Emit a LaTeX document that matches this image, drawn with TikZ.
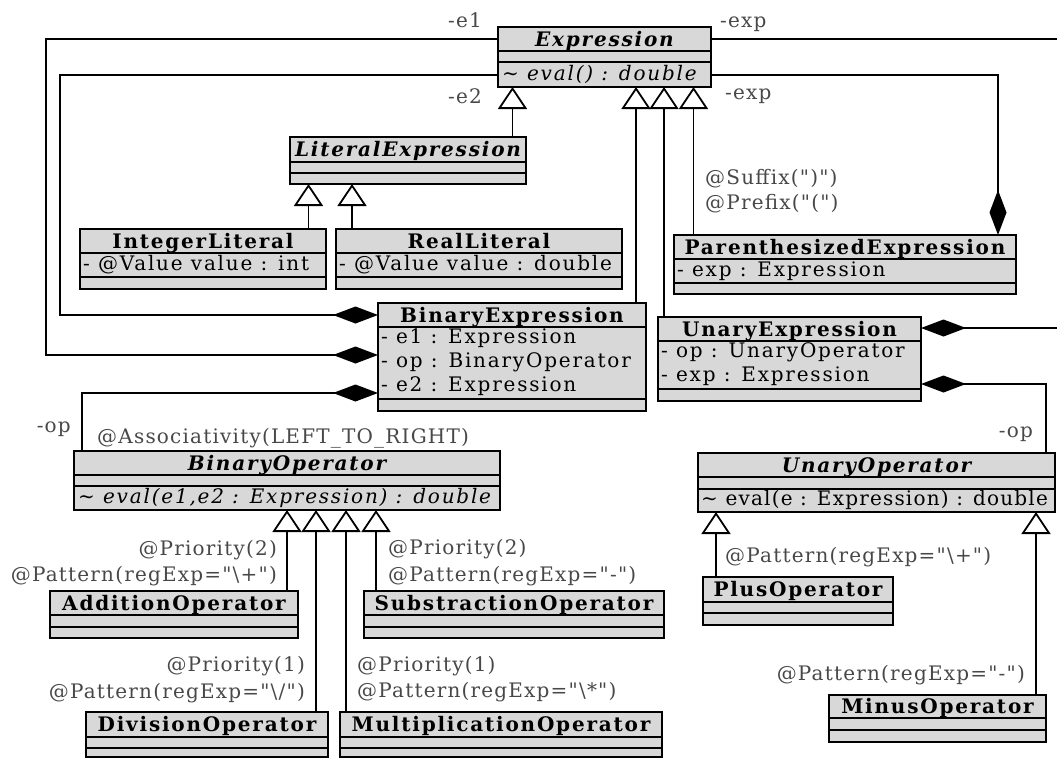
\documentclass[tikz,border=0pt]{standalone}
\usepackage{fontspec}
\newfontfamily\umlfont{DejaVu Serif}[LetterSpace=9]
\newfontfamily\notefont{DejaVu Serif}[LetterSpace=6]
\usetikzlibrary{arrows.meta}
\definecolor{boxfill}{RGB}{216,216,216}
\definecolor{labelgray}{RGB}{72,72,72}
\newcommand\umlsize{\fontsize{20}{24}\selectfont}
\tikzset{
  every node/.style={font=\umlfont\umlsize},
  classbox/.style={draw, fill=boxfill, line width=1.8pt, inner sep=0pt, outer sep=0pt, anchor=north west},
  divider/.style={line width=1.8pt},
  ctitle/.style={anchor=base, inner sep=0pt, font=\umlfont\umlsize\bfseries},
  atitle/.style={anchor=base, inner sep=0pt, font=\umlfont\umlsize\bfseries\itshape},
  attr/.style={anchor=base west, inner sep=0pt},
  meth/.style={anchor=base west, inner sep=0pt, font=\umlfont\umlsize\itshape},
  annot/.style={text=labelgray, inner sep=0pt, font=\notefont\umlsize},
  gen/.style={line width=1.8pt, -{Triangle[open,length=22pt,width=29pt,fill=white]}},
  comp/.style={line width=1.8pt, -{Diamond[length=45pt,width=17pt]}},
}
\newcommand\umlbox[5]{\node[classbox, minimum width={(#4)-(#2)}, minimum height={(#5)-(#3)}] (#1) at (#2,#3) {};}
\newcommand\umlrule[3]{\draw[divider] (#1,#3) -- (#2,#3);}
\begin{document}
\begin{tikzpicture}[x=1pt,y=-1pt]
\useasboundingbox (0,0) rectangle (1057,758);
\clip (0,0) rectangle (1057,758);

% ---------- classes ----------
% Expression
\umlbox{expr}{498}{27}{711}{87}
\umlrule{498}{711}{51}\umlrule{498}{711}{62}
\node[atitle] (exprT) at (604.5,46) {Expression};
\node[meth] (exprM) at (502,80) {\textasciitilde{} eval() : double};

% LiteralExpression
\umlbox{lit}{290}{137}{526}{184}
\umlrule{290}{526}{162}\umlrule{290}{526}{173}
\node[atitle] (litT) at (408,156) {LiteralExpression};

% IntegerLiteral
\umlbox{intlit}{80}{229}{326}{289}
\umlrule{80}{326}{253}\umlrule{80}{326}{277}
\node[ctitle] (intlitT) at (203,248) {IntegerLiteral};
\node[attr] (intlitA) at (83,270) {- @Value value : int};

% RealLiteral
\umlbox{reallit}{336}{229}{622}{289}
\umlrule{336}{622}{253}\umlrule{336}{622}{277}
\node[ctitle] (reallitT) at (479,248) {RealLiteral};
\node[attr] (reallitA) at (339,270) {- @Value value : double};

% ParenthesizedExpression
\umlbox{paren}{674}{235}{1016}{294}
\umlrule{674}{1016}{259}\umlrule{674}{1016}{283}
\node[ctitle] (parenT) at (845,254) {ParenthesizedExpression};
\node[attr] (parenA) at (677,276) {- exp : Expression};

% BinaryExpression
\umlbox{binexp}{378}{303}{646}{411}
\umlrule{378}{646}{327}\umlrule{378}{646}{399}
\node[ctitle] (binexpT) at (512,322) {BinaryExpression};
\node[attr] (binexpA1) at (381,343) {- e1 : Expression};
\node[attr] (binexpA2) at (381,367) {- op : BinaryOperator};
\node[attr] (binexpA3) at (381,391) {- e2 : Expression};

% UnaryExpression
\umlbox{unexp}{658}{317}{921}{401}
\umlrule{658}{921}{341}\umlrule{658}{921}{389}
\node[ctitle] (unexpT) at (789.5,336) {UnaryExpression};
\node[attr] (unexpA1) at (661,357) {- op : UnaryOperator};
\node[attr] (unexpA2) at (661,381) {- exp : Expression};

% BinaryOperator
\umlbox{binop}{74}{451}{500}{510}
\umlrule{74}{500}{475}\umlrule{74}{500}{486}
\node[atitle] (binopT) at (287,470) {BinaryOperator};
\node[meth] (binopM) at (78,503) {\textasciitilde{} eval(e1,e2 : Expression) : double};

% UnaryOperator
\umlbox{unop}{698}{453}{1055}{512}
\umlrule{698}{1055}{477}\umlrule{698}{1055}{489}
\node[atitle] (unopT) at (876.5,472) {UnaryOperator};
\node[attr, font=\notefont\umlsize] (unopM) at (701,505) {\textasciitilde{} eval(e : Expression) : double};

% AdditionOperator
\umlbox{add}{50}{591}{298}{638}
\umlrule{50}{298}{615}\umlrule{50}{298}{627}
\node[ctitle] (addT) at (174,610) {AdditionOperator};

% SubstractionOperator
\umlbox{sub}{364}{591}{664}{638}
\umlrule{364}{664}{615}\umlrule{364}{664}{627}
\node[ctitle] (subT) at (514,610) {SubstractionOperator};

% DivisionOperator
\umlbox{div}{86}{712}{328}{757}
\umlrule{86}{328}{737}\umlrule{86}{328}{748}
\node[ctitle] (divT) at (207,731) {DivisionOperator};

% MultiplicationOperator
\umlbox{mul}{340}{712}{662}{757}
\umlrule{340}{662}{737}\umlrule{340}{662}{748}
\node[ctitle] (mulT) at (501,731) {MultiplicationOperator};

% PlusOperator
\umlbox{plus}{703}{577}{893}{625}
\umlrule{703}{893}{602}\umlrule{703}{893}{613}
\node[ctitle] (plusT) at (798,596) {PlusOperator};

% MinusOperator
\umlbox{minus}{829}{695}{1046}{742}
\umlrule{829}{1046}{718}\umlrule{829}{1046}{730}
\node[ctitle] (minusT) at (937.5,713) {MinusOperator};

% ---------- generalizations ----------
\draw[gen] (512.5,0 |- lit.north) -- (512.5,0 |- expr.south);
\draw[gen] (308.5,0 |- intlit.north) -- (308.5,0 |- lit.south);
\draw[gen] (352,0 |- reallit.north) -- (352,0 |- lit.south);
\draw[gen] (636,0 |- binexp.north) -- (636,0 |- expr.south);
\draw[gen] (664,0 |- unexp.north) -- (664,0 |- expr.south);
\draw[gen] (693.5,0 |- paren.north) -- (693.5,0 |- expr.south);
\draw[gen] (287,0 |- add.north) -- (287,0 |- binop.south);
\draw[gen] (316,0 |- div.north) -- (316,0 |- binop.south);
\draw[gen] (346,0 |- mul.north) -- (346,0 |- binop.south);
\draw[gen] (376,0 |- sub.north) -- (376,0 |- binop.south);
\draw[gen] (716,0 |- plus.north) -- (716,0 |- unop.south);
\draw[gen] (1036,0 |- minus.north) -- (1036,0 |- unop.south);

% ---------- compositions ----------
\draw[comp] (expr.west |- 0,39) -| (46,355) -- (binexp.west |- 0,355);
\draw[comp] (expr.west |- 0,75) -| (60,315) -- (binexp.west |- 0,315);
\draw[comp] (82,0 |- binop.north) |- (binexp.west |- 0,393);
\draw[comp] (expr.east |- 0,75) -| (998,0 |- paren.north);
\draw[comp] (expr.east |- 0,39) -| (1075,328) -- (unexp.east |- 0,328);
\draw[comp] (1046,0 |- unop.north) |- (unexp.east |- 0,384);

% ---------- labels ----------
\node[annot, anchor=base east] (le1) at (482,27) {-e1};
\node[annot, anchor=base east] (le2) at (482,103) {-e2};
\node[annot, anchor=base west] (lexp1) at (720,27) {-exp};
\node[annot, anchor=base west] (lexp2) at (725,99) {-exp};
\node[annot, anchor=base east] (lop1) at (71,432) {-op};
\node[annot, anchor=base east] (lop2) at (1033,437) {-op};

\node[annot, anchor=base west] (suf) at (705,184) {@Suffix(")")};
\node[annot, anchor=base west] (pre) at (705,209) {@Prefix("(")};
\node[annot, anchor=base west] (assoc) at (97,443) {@Associativity(LEFT\textunderscore TO\textunderscore RIGHT)};

\node[annot, anchor=base east] (pa2) at (277,555) {@Priority(2)};
\node[annot, anchor=base east] (pta) at (277,581) {@Pattern(regExp="\textbackslash+")};
\node[annot, anchor=base west] (ps2) at (388,554) {@Priority(2)};
\node[annot, anchor=base west] (pts) at (388,581) {@Pattern(regExp="-")};
\node[annot, anchor=base east] (pd1) at (305,671) {@Priority(1)};
\node[annot, anchor=base east] (ptd) at (305,698) {@Pattern(regExp="\textbackslash/")};
\node[annot, anchor=base west] (pm1) at (357,671) {@Priority(1)};
\node[annot, anchor=base west] (ptm) at (357,697) {@Pattern(regExp="\textbackslash*")};
\node[annot, anchor=base west] (ptp) at (725,562) {@Pattern(regExp="\textbackslash+")};
\node[annot, anchor=base east] (ptmi) at (1025,680) {@Pattern(regExp="-")};
\end{tikzpicture}
\end{document}
